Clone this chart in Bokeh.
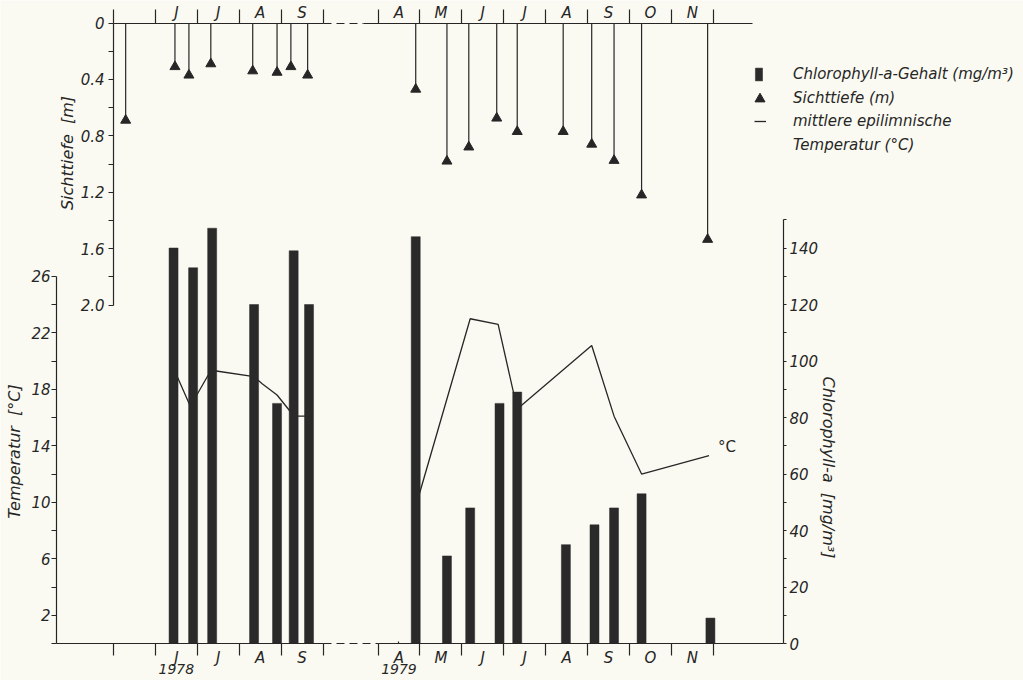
import datetime as dt
from bokeh.plotting import figure
from bokeh.models import (Range1d, LinearAxis, FixedTicker, Legend, LegendItem,
                          PrintfTickFormatter)
from bokeh.core.properties import value
from bokeh.embed import file_html
from bokeh.resources import INLINE

# ---------------- data ----------------
month_labels_1978 = ["", "J", "J", "A", "S"]                  # May..Sep 1978
month_labels_1979 = ["A", "M", "J", "J", "A", "S", "O", "N"]  # Apr..Nov 1979
year_labels = ["1978", "1979"]

chl_dates = ["1978-06-14", "1978-06-28", "1978-07-12", "1978-08-12", "1978-08-29",
             "1978-09-10", "1978-09-21",
             "1979-04-28", "1979-05-21", "1979-06-07", "1979-06-28", "1979-07-11",
             "1979-08-16", "1979-09-06", "1979-09-20", "1979-10-10", "1979-11-29"]
chl_values = [140, 133, 147, 120, 85, 139, 120,
              144, 31, 48, 85, 89, 35, 42, 48, 53, 9]

secchi_dates = ["1978-05-10", "1978-06-15", "1978-06-25", "1978-07-11", "1978-08-11",
                "1978-08-29", "1978-09-08", "1978-09-20",
                "1979-04-28", "1979-05-21", "1979-06-06", "1979-06-26", "1979-07-11",
                "1979-08-14", "1979-09-04", "1979-09-20", "1979-10-10", "1979-11-27"]
secchi_values = [0.69, 0.31, 0.37, 0.29, 0.34, 0.35, 0.31, 0.37,
                 0.47, 0.98, 0.88, 0.675, 0.77, 0.77, 0.86, 0.975, 1.22, 1.535]

temp_dates_1978 = ["1978-06-14", "1978-06-26", "1978-07-09", "1978-07-15", "1978-08-12",
                   "1978-08-18", "1978-08-29", "1978-09-07", "1978-09-11", "1978-09-21"]
temp_1978 = [19.5, 16.8, 19.0, 19.3, 18.9, 18.4, 17.6, 16.5, 16.1, 16.1]
temp_dates_1979 = ["1979-04-28", "1979-06-07", "1979-06-27", "1979-07-11",
                   "1979-09-04", "1979-09-20", "1979-10-10", "1979-11-28"]
temp_1979 = [9.7, 23.0, 22.6, 16.6, 21.1, 16.1, 12.0, 13.3]

temp_ticks = [2, 6, 10, 14, 18, 22, 26]
temp_minor = [0, 4, 8, 12, 16, 20, 24]
secchi_ticks = [0, 0.4, 0.8, 1.2, 1.6, 2.0]
secchi_minor = [0.2, 0.6, 1.0, 1.4, 1.8]
chl_ticks = [0, 20, 40, 60, 80, 100, 120, 140]
chl_minor = [10, 30, 50, 70, 90, 110, 130, 150]

# ---------------- layout / style ----------------
W, H = 1023, 680
MONTH_PX = 41.9          # width of one month on the time axis (px)
X_ORIGIN = 113           # px from the left edge to 1 May 1978
GAP_1979 = 6.313         # axis position of 1 Apr 1979 (after the axis break)
FY_TOP = 22.5            # px from the top to the Sichttiefe zero line
BASE = 643.0             # px from the top to the time axis
T_PX, C_PX, S_PX = 14.12, 2.825, 141.0
BG = "#fbfaf2"
INK = "#262626"
FONT = "DejaVu Sans"
FS = "15px"
FS_TITLE = "16px"
NB = "\u00a0 "
DASH = "8 5"


def xpos(s):
    d = dt.date.fromisoformat(s)
    m0, off = {1978: (5, 0.0), 1979: (4, GAP_1979)}[d.year]
    nxt = dt.date(d.year + (d.month == 12), d.month % 12 + 1, 1)
    ndays = (nxt - dt.date(d.year, d.month, 1)).days
    return off + (d.month - m0) + (d.day - 1) / ndays


def xpx(px):  # canvas px -> time-axis position
    return (px - X_ORIGIN) / MONTH_PX


X0, X1 = xpx(0), xpx(W)
p = figure(width=W, height=H, x_range=Range1d(X0, X1),
           y_range=Range1d(-(H - BASE) / T_PX, BASE / T_PX),
           output_backend="svg", toolbar_location=None,
           x_axis_location=None, y_axis_location=None, min_border=0,
           background_fill_color=BG, border_fill_color=BG, outline_line_color=None)
p.grid.visible = False
p.extra_y_ranges = {"secchi": Range1d((H - FY_TOP) / S_PX, -FY_TOP / S_PX),
                    "chl": Range1d(-(H - BASE) / C_PX, BASE / C_PX)}


def style(ax):
    ax.axis_line_color = INK
    ax.axis_line_width = 1.2
    ax.major_tick_line_color = INK
    ax.minor_tick_line_color = INK
    ax.major_tick_line_width = 1.2
    ax.minor_tick_line_width = 1.2
    ax.major_label_text_font = FONT
    ax.major_label_text_font_style = "italic"
    ax.major_label_text_font_size = FS
    ax.major_label_text_color = INK
    ax.axis_label_text_font = FONT
    ax.axis_label_text_font_style = "italic"
    ax.axis_label_text_font_size = FS_TITLE
    ax.axis_label_text_color = INK
    return ax


def title_axis(side, label, loc, bounds, standoff, **kw):
    ax = style(LinearAxis(fixed_location=loc, bounds=bounds, ticker=FixedTicker(ticks=[]),
                          axis_line_alpha=0, major_tick_out=0, minor_tick_out=0,
                          major_label_standoff=0, axis_label=label,
                          axis_label_standoff=standoff, **kw))
    p.add_layout(ax, side)


# month ticks
b78 = [xpos(f"1978-{m:02d}-01") for m in range(5, 11)]
b79 = [xpos(f"1979-{m:02d}-01") for m in range(4, 13)]
centers, overrides = [], {}
for b, lab in list(zip(b78, month_labels_1978)) + list(zip(b79, month_labels_1979)):
    if lab:
        c = round(b + 0.5, 4)
        centers.append(c)
        overrides[c] = lab
boundaries = [round(v, 4) for v in b78 + b79]
year_pos = [round(b78[1] + 0.5, 4), round(b79[0] + 0.5, 4)]

x_temp_axis = xpx(56)
x_chl_axis = xpx(783)

# temperature axis
ax_t = style(LinearAxis(fixed_location=x_temp_axis,
                        ticker=FixedTicker(ticks=temp_ticks, minor_ticks=temp_minor),
                        bounds=(0, 26),
                        major_tick_out=5, major_tick_in=0, minor_tick_out=5, minor_tick_in=0,
                        major_label_standoff=1))
p.add_layout(ax_t, "left")
title_axis("left", "Temperatur" + NB + "[°C]", x_temp_axis, (0, 27.2), 33)

# Sichttiefe axis at 1 May 1978
x_secchi_axis = xpos("1978-05-01")
ax_s = style(LinearAxis(y_range_name="secchi", fixed_location=x_secchi_axis,
                        ticker=FixedTicker(ticks=secchi_ticks, minor_ticks=secchi_minor),
                        bounds=(0, 2.0),
                        formatter=PrintfTickFormatter(format="%.1f"),
                        major_label_overrides={0: "0"},
                        major_tick_out=5, major_tick_in=0, minor_tick_out=5, minor_tick_in=0,
                        major_label_standoff=4))
p.add_layout(ax_s, "left")
title_axis("left", "Sichttiefe" + NB + "[m]", x_secchi_axis, (0, 1.84), 37,
           y_range_name="secchi")

# chlorophyll axis (right)
ax_c = style(LinearAxis(y_range_name="chl", fixed_location=x_chl_axis,
                        ticker=FixedTicker(ticks=chl_ticks, minor_ticks=chl_minor),
                        bounds=(0, 150),
                        major_tick_out=3, major_tick_in=0, minor_tick_out=3, minor_tick_in=0,
                        major_label_standoff=3))
p.add_layout(ax_c, "right")
title_axis("right", "Chlorophyll-a" + NB + "[mg/m³]", x_chl_axis, (0, 124.6), 35,
           y_range_name="chl")

# month axes (top at Sichttiefe 0, bottom at time axis)
ax_top = style(LinearAxis(y_range_name="secchi", fixed_location=0,
                          ticker=FixedTicker(ticks=centers, minor_ticks=boundaries),
                          major_label_overrides=overrides, axis_line_alpha=0,
                          major_tick_out=0, major_tick_in=0, minor_tick_out=14, minor_tick_in=0,
                          major_label_standoff=-13))
p.add_layout(ax_top, "above")
ax_bot = style(LinearAxis(fixed_location=0,
                          ticker=FixedTicker(ticks=centers, minor_ticks=boundaries),
                          major_label_overrides=overrides, axis_line_alpha=0,
                          major_tick_out=0, major_tick_in=0, minor_tick_out=12, minor_tick_in=0,
                          major_label_standoff=-7))
p.add_layout(ax_bot, "below")
ax_y = style(LinearAxis(fixed_location=0, ticker=FixedTicker(ticks=year_pos),
                        major_label_overrides=dict(zip(year_pos, year_labels)),
                        axis_line_alpha=0, major_tick_out=0, minor_tick_out=0,
                        major_label_standoff=20))
ax_y.major_label_text_font_size = "14px"
p.add_layout(ax_y, "below")


def rule(side, a, b, dash="solid", **kw):
    ax = style(LinearAxis(ticker=FixedTicker(ticks=[]), bounds=(a, b),
                          major_tick_out=0, minor_tick_out=0, major_label_standoff=0,
                          axis_line_dash=dash, fixed_location=0, **kw))
    p.add_layout(ax, side)


oct78 = xpos("1978-10-01")
apr79 = xpos("1979-04-01")
rule("below", x_temp_axis, oct78)
rule("below", oct78, apr79, DASH)
rule("below", apr79, x_chl_axis)
rule("above", x_secchi_axis, oct78, y_range_name="secchi")
rule("above", oct78, xpx(363), DASH, y_range_name="secchi")
rule("above", xpx(363), xpx(752), y_range_name="secchi")

# ---------------- glyphs ----------------
r_temp = p.multi_line(xs=[[xpos(d) for d in temp_dates_1978], [xpos(d) for d in temp_dates_1979]],
                      ys=[temp_1978, temp_1979], line_color=INK, line_width=1.3)
r_bar = p.vbar(x=[xpos(d) for d in chl_dates], top=chl_values, bottom=0, width=0.215,
               y_range_name="chl", fill_color="#2a2a2a", line_color="#2a2a2a", line_width=0.5)
sx = [xpos(d) for d in secchi_dates]
p.segment(x0=sx, y0=[0] * len(sx), x1=sx, y1=secchi_values, y_range_name="secchi",
          line_color=INK, line_width=1.2)
r_tri = p.scatter(x=sx, y=secchi_values, marker="triangle", size=10, y_range_name="secchi",
                  fill_color=INK, line_color=INK)
p.text(x=[xpos(temp_dates_1979[-1])], y=[temp_1979[-1]], text=["°C"], x_offset=9, y_offset=-9,
       text_font=value(FONT), text_font_size=FS, text_color=INK, text_baseline="middle")


# ---------------- legend ----------------
def add_legend(label, rend, gw, gh, left, row, label_x=793):
    leg = Legend(items=[LegendItem(label=label, renderers=[rend])],
                 location=(left, H - row - gh / 2),
                 glyph_width=gw, glyph_height=gh, label_height=gh,
                 label_standoff=int(round(label_x - left - gw)),
                 padding=0, margin=0, spacing=0,
                 background_fill_alpha=0, border_line_alpha=0,
                 label_text_font=FONT, label_text_font_style="italic",
                 label_text_font_size=FS, label_text_color=INK)
    p.add_layout(leg, "center")


add_legend("Chlorophyll-a-Gehalt (mg/m³)", r_bar, 9, 16, 754, 75)
add_legend("Sichttiefe (m)", r_tri, 25, 25, 747, 98)
add_legend("mittlere epilimnische", r_temp, 12, 16, 754, 122)
add_legend("Temperatur (°C)", r_temp, 0, 16, 754, 146)

open("out.html", "w").write(file_html(p, INLINE))
